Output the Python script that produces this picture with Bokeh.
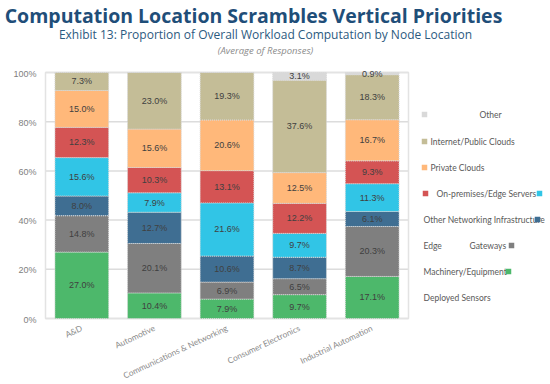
import numpy as np
from bokeh.plotting import figure
from bokeh.models import ColumnDataSource, Range1d
from bokeh.core.properties import value
from bokeh.embed import file_html
from bokeh.resources import INLINE

# ---------------- data ----------------
categories = ["A&D", "Automotive", "Communications & Networking",
              "Consumer Electronics", "Industrial Automation"]

series_keys = ["machinery", "gateways", "networking", "edge_servers",
               "onprem", "private", "public", "other"]

machinery    = [27.0, 10.4, 7.9, 9.7, 17.1]
gateways     = [14.8, 20.1, 6.9, 6.5, 20.3]
networking   = [8.0, 12.7, 10.6, 8.7, 6.1]
edge_servers = [15.6, 7.9, 21.6, 9.7, 11.3]
onprem       = [12.3, 10.3, 13.1, 12.2, 9.3]
private      = [15.0, 15.6, 20.6, 12.5, 16.7]
public       = [7.3, 23.0, 19.3, 37.6, 18.3]
other        = [0.0, 0.0, 0.0, 3.1, 0.9]

colors = ["#4db86b", "#7f7f7f", "#3f6e92", "#31c5e6",
          "#d45454", "#ffb87a", "#c4bd97", "#d9d9d9"]

y_ticks = [0, 20, 40, 60, 80, 100]
y_tick_labels = ["0%", "20%", "40%", "60%", "80%", "100%"]

title_text = "Computation Location Scrambles Vertical Priorities"
subtitle_text = "Exhibit 13: Proportion of Overall Workload Computation by Node Location"
note_text = "(Average of Responses)"

legend_texts = ["Other", "Internet/Public Clouds", "Private Clouds",
                "On-premises/Edge  Servers", "Other Networking Infrastructure",
                "Edge", "Gateways", "Machinery/Equipment", "Deployed Sensors"]

# ---------------- layout helpers (page pixels -> data) ----------------
PX = 72.6      # pixels per category step
PY = 2.46      # pixels per percentage point
X0 = 81.3      # page x of first bar centre
Y0 = 318.0     # page y of 0 %
OX, OY = 0, 0  # page position of the canvas
W, H = 548, 382


def dx(px):
    return (px - X0) / PX


def dy(py):
    return (Y0 - py) / PY


p = figure(width=W, height=H, output_backend="svg", toolbar_location=None,
           x_range=Range1d(dx(OX), dx(OX + W)),
           y_range=Range1d(dy(OY + H), dy(OY)),
           x_axis_type=None, y_axis_type=None, min_border=0)
p.outline_line_color = None
p.grid.visible = False
p.background_fill_color = "white"
p.border_fill_color = "white"

xs = list(range(len(categories)))
left_edge, right_edge = -0.5, len(categories) - 0.5

# gridlines
p.segment(x0=[left_edge] * len(y_ticks), x1=[right_edge] * len(y_ticks),
          y0=y_ticks, y1=y_ticks, line_color="#dcdcdc", line_width=1.5)
# plot-area border
p.quad(left=[left_edge], right=[right_edge], bottom=[y_ticks[0]],
       top=[y_ticks[-1]], fill_color=None, line_color="#e3e3e3", line_width=1.5)

# stacked bars
src = ColumnDataSource(dict(x=xs, machinery=machinery, gateways=gateways,
                            networking=networking, edge_servers=edge_servers,
                            onprem=onprem, private=private, public=public,
                            other=other))
p.vbar_stack(series_keys, x="x", width=0.74, source=src, color=colors,
             line_color="#d8d8d8", line_dash="1 1", line_width=1)

# segment labels
arr = np.array([machinery, gateways, networking, edge_servers, onprem,
                private, public, other])
tops = np.cumsum(arr, axis=0)
mids = tops - arr / 2
lx, ly, lt = [], [], []
for s in range(arr.shape[0]):
    for c in range(arr.shape[1]):
        if arr[s, c] > 0:
            lx.append(xs[c])
            ly.append(mids[s, c])
            lt.append(f"{arr[s, c]:.1f}%")
p.text(x=lx, y=ly, text=lt, text_align="center", text_baseline="middle",
       text_font=value("Liberation Sans"), text_font_size="9px",
       text_color="#404040")

# y tick labels
p.text(x=[left_edge] * len(y_ticks), y=y_ticks, text=y_tick_labels,
       x_offset=-9, y_offset=1, text_align="right", text_baseline="middle",
       text_font=value("Liberation Sans"), text_font_size="9px",
       text_color="#808080")

# category labels (rotated)
p.text(x=xs, y=[dy(327)] * len(xs), text=categories, x_offset=0, angle=0.44,
       text_align="right", text_baseline="middle",
       text_font=value("Lato"), text_font_size="8.3px",
       text_color="#8c8c8c")

# titles
p.text(x=[dx(253)], y=[dy(14.5)], text=[title_text], text_align="center",
       text_baseline="alphabetic", text_font=value("Open Sans"),
       text_font_style="bold", text_font_size="19.5px", text_color="#1f4e79")
p.text(x=[dx(265)], y=[dy(33.5)], text=[subtitle_text], text_align="center",
       text_baseline="alphabetic", text_font=value("Open Sans"),
       text_font_size="12px", text_color="#2c5a80")
p.text(x=[dx(265)], y=[dy(50)], text=[note_text], text_align="center",
       text_baseline="alphabetic", text_font=value("Open Sans"),
       text_font_style="italic", text_font_size="9.5px", text_color="#8c8c8c")

# legend (scrambled layout like the reference)
legend_text_px = [(479, 114), (430, 141), (430, 167), (436, 193), (423, 219),
                  (423, 245), (469, 245), (423, 271), (423, 297)]
p.text(x=[dx(a) for a, b in legend_text_px], y=[dy(b) for a, b in legend_text_px],
       text=legend_texts, text_align="left", text_baseline="middle",
       text_font=value("Lato"), text_font_size="8.5px",
       text_color="#595959")

legend_sq_colors = [colors[7], colors[6], colors[5], colors[4], colors[3],
                    colors[2], colors[1], colors[0]]
legend_sq_px = [(424, 114), (424, 141), (424, 167), (425, 193), (539, 193),
                (537, 219), (511, 245), (508, 271)]
p.scatter(x=[dx(a) for a, b in legend_sq_px], y=[dy(b) for a, b in legend_sq_px],
          marker="square", size=5.5, fill_color=legend_sq_colors,
          line_color=None)

open("out.html", "w").write(file_html(p, INLINE))
